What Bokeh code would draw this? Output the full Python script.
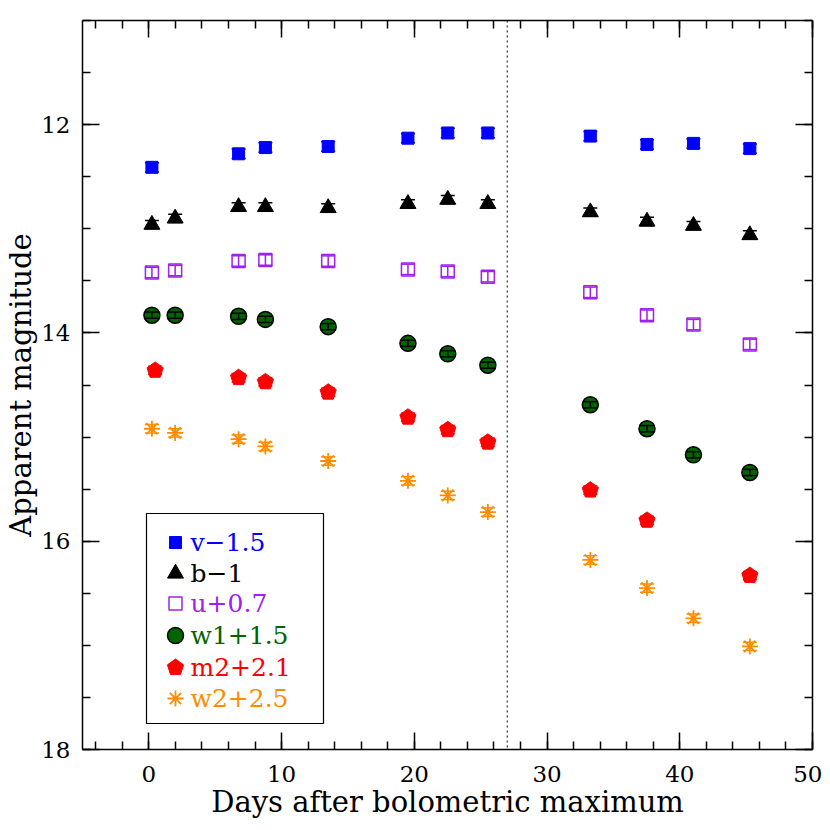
from bokeh.plotting import figure
from bokeh.models import (Range1d, LinearAxis, SingleIntervalTicker, Whisker, TeeHead,
                          ColumnDataSource, Span, CustomJSTickFormatter)
from bokeh.core.properties import value
from bokeh.embed import file_html
from bokeh.resources import INLINE

# ---------------- data (apparent magnitudes, before legend offsets) ----------------
days_v = [0.23, 6.76, 8.78, 13.51, 19.52, 22.52, 25.54, 33.26, 37.53, 41.03, 45.28]
mag_v = [13.91, 13.78, 13.72, 13.71, 13.63, 13.58, 13.58, 13.61, 13.69, 13.68, 13.73]
err_v = [0.045, 0.045, 0.045, 0.045, 0.045, 0.045, 0.045, 0.045, 0.045, 0.045, 0.045]

days_b = [0.23, 1.98, 6.76, 8.78, 13.51, 19.52, 22.52, 25.54, 33.26, 37.53, 41.03, 45.28]
mag_b = [13.96, 13.90, 13.79, 13.79, 13.80, 13.76, 13.72, 13.76, 13.84, 13.93, 13.97, 14.06]
err_b = [0.04, 0.04, 0.04, 0.04, 0.04, 0.04, 0.04, 0.04, 0.04, 0.04, 0.04, 0.04]

days_u = [0.23, 1.98, 6.76, 8.78, 13.51, 19.52, 22.52, 25.54, 33.26, 37.53, 41.03, 45.28]
mag_u = [12.72, 12.70, 12.61, 12.60, 12.61, 12.69, 12.71, 12.76, 12.91, 13.13, 13.22, 13.41]
err_u = [0.05, 0.05, 0.05, 0.05, 0.05, 0.05, 0.05, 0.05, 0.05, 0.05, 0.05, 0.05]

days_w1 = [0.23, 1.98, 6.76, 8.78, 13.51, 19.52, 22.52, 25.54, 33.26, 37.53, 41.03, 45.28]
mag_w1 = [12.33, 12.33, 12.34, 12.37, 12.44, 12.60, 12.70, 12.81, 13.19, 13.42, 13.67, 13.84]
err_w1 = [0.03, 0.03, 0.03, 0.03, 0.03, 0.03, 0.03, 0.03, 0.03, 0.03, 0.03, 0.03]

days_m2 = [0.47, 6.76, 8.78, 13.51, 19.52, 22.52, 25.54, 33.26, 37.53, 45.28]
mag_m2 = [12.26, 12.33, 12.37, 12.47, 12.71, 12.83, 12.95, 13.41, 13.70, 14.23]
err_m2 = [0.04, 0.04, 0.04, 0.04, 0.04, 0.04, 0.04, 0.04, 0.04, 0.04]

days_w2 = [0.23, 1.98, 6.76, 8.78, 13.51, 19.52, 22.52, 25.54, 33.26, 37.53, 41.03, 45.28]
mag_w2 = [12.42, 12.46, 12.52, 12.59, 12.73, 12.92, 13.06, 13.22, 13.68, 13.95, 14.24, 14.51]
err_w2 = [0.04, 0.04, 0.04, 0.04, 0.04, 0.04, 0.04, 0.04, 0.04, 0.04, 0.04, 0.04]

bands = ["v", "b", "u", "w1", "m2", "w2"]
offsets = [-1.5, -1.0, 0.7, 1.5, 2.1, 2.5]
legend_labels = ["v\u22121.5", "b\u22121", "u+0.7", "w1+1.5", "m2+2.1", "w2+2.5"]
colors = ["#0000FF", "#000000", "#A020F0", "#006400", "#FF0000", "#FF8C00"]
break_day = 27

x_label = "Days after bolometric maximum"
y_label = "Apparent magnitude"

series = {
    "v": (days_v, mag_v, err_v),
    "b": (days_b, mag_b, err_b),
    "u": (days_u, mag_u, err_u),
    "w1": (days_w1, mag_w1, err_w1),
    "m2": (days_m2, mag_m2, err_m2),
    "w2": (days_w2, mag_w2, err_w2),
}

FONT = "DejaVu Serif"
X0, X1, Y0, Y1 = -5, 50, 11, 18
FW, FH = 730, 729

p = figure(frame_width=FW, frame_height=FH,
           x_range=Range1d(X0, X1), y_range=Range1d(Y1, Y0),
           output_backend="svg", toolbar_location=None,
           min_border_left=82, min_border_right=10, min_border_top=20, min_border_bottom=70,
           background_fill_color="white", border_fill_color="white")
p.grid.visible = False
p.outline_line_color = None

xt = SingleIntervalTicker(interval=10, num_minor_ticks=5)
yt = SingleIntervalTicker(interval=2, num_minor_ticks=4)


def style_axis(ax, labels=True):
    ax.axis_line_color = "black"
    ax.axis_line_width = 1.5
    ax.major_tick_in = 17
    ax.major_tick_out = 0
    ax.minor_tick_in = 8
    ax.minor_tick_out = 0
    ax.major_tick_line_width = 1.5
    ax.minor_tick_line_width = 1.5
    ax.major_tick_line_color = "black"
    ax.minor_tick_line_color = "black"
    ax.major_label_text_font = FONT
    ax.major_label_text_font_size = "23px"
    ax.major_label_text_color = "black"
    ax.axis_label_text_font = FONT
    ax.axis_label_text_font_size = "29px"
    ax.axis_label_text_font_style = "normal"
    ax.axis_label_text_color = "black"
    ax.axis_label_text_line_height = 1.0
    if not labels:
        ax.formatter = CustomJSTickFormatter(code="return ''")
        ax.major_label_standoff = 0


bx = p.xaxis[0]
bx.ticker = xt
bx.axis_label = x_label
style_axis(bx)
bx.major_label_standoff = 16
bx.axis_label_standoff = 0

ly = p.yaxis[0]
ly.ticker = yt
ly.axis_label = y_label
style_axis(ly)
ly.major_label_standoff = 12
ly.axis_label_standoff = 0

ax_top = LinearAxis(ticker=SingleIntervalTicker(interval=10, num_minor_ticks=5))
style_axis(ax_top, labels=False)
p.add_layout(ax_top, "above")
ax_right = LinearAxis(ticker=SingleIntervalTicker(interval=2, num_minor_ticks=4))
style_axis(ax_right, labels=False)
p.add_layout(ax_right, "right")

p.add_layout(Span(location=break_day, dimension="height", line_color="black",
                  line_width=1, line_dash="2 3"))

# pixel helpers (for pentagon markers and legend layout)
SX = (X1 - X0) / FW
SY = (Y1 - Y0) / FH


def pentagon_patches(xs, ys, r_px):
    import math
    px, py = [], []
    for x, y in zip(xs, ys):
        vx, vy = [], []
        for k in range(5):
            a = math.radians(-90 + 72 * k)
            vx.append(x + r_px * math.cos(a) * SX)
            vy.append(y + r_px * math.sin(a) * SY)
        px.append(vx)
        py.append(vy)
    return px, py


def draw_marker(band, xs, ys, color):
    if band == "v":
        p.scatter(xs, ys, marker="square", size=12, fill_color=color, line_color=color)
    elif band == "b":
        p.scatter(xs, ys, marker="triangle", size=16, fill_color=color, line_color=color)
    elif band == "u":
        p.scatter(xs, ys, marker="square", size=13, fill_color=None, line_color=color, line_width=1.5)
    elif band == "w1":
        p.scatter(xs, ys, marker="circle", size=16, fill_color=color, line_color="black", line_width=1.5)
    elif band == "m2":
        px, py = pentagon_patches(xs, ys, 8.5)
        p.patches(px, py, fill_color=color, line_color=color)
    elif band == "w2":
        p.scatter(xs, ys, marker="asterisk", size=16, line_color=color, line_width=1.8)


for band, off, color in zip(bands, offsets, colors):
    d, m, e = series[band]
    y = [mi + off for mi in m]
    src = ColumnDataSource(dict(x=d, y=y, lo=[yi - ei for yi, ei in zip(y, e)],
                                hi=[yi + ei for yi, ei in zip(y, e)]))
    draw_marker(band, src.data["x"], src.data["y"], color)
    bar_color = "black" if band == "w1" else color
    w = Whisker(source=src, base="x", lower="lo", upper="hi", dimension="height",
                line_color=bar_color, line_width=1.5, level="overlay",
                lower_head=TeeHead(size=14, line_color=bar_color, line_width=1.5),
                upper_head=TeeHead(size=14, line_color=bar_color, line_width=1.5))
    p.add_layout(w)

# ---------------- legend (layout in frame pixels) ----------------
box_l, box_t, box_r, box_b = 64, 493, 241, 703
row_y = [522, 553, 583, 615, 647, 678]
mark_x, text_x = 93, 108


def dx(px):
    return X0 + px * SX


def dy(py):
    return Y0 + py * SY


p.quad(left=[dx(box_l)], right=[dx(box_r)], top=[dy(box_t)], bottom=[dy(box_b)],
       fill_color="white", line_color="black", line_width=1.2)
for band, lab, color, ry in zip(bands, legend_labels, colors, row_y):
    draw_marker(band, [dx(mark_x)], [dy(ry)], color)
    p.text(x=[dx(text_x)], y=[dy(ry)], text=[lab], text_color=color,
           text_font=value(FONT), text_font_size="25px",
           text_baseline="middle", text_align="left")

open("out.html", "w").write(file_html(p, INLINE))
